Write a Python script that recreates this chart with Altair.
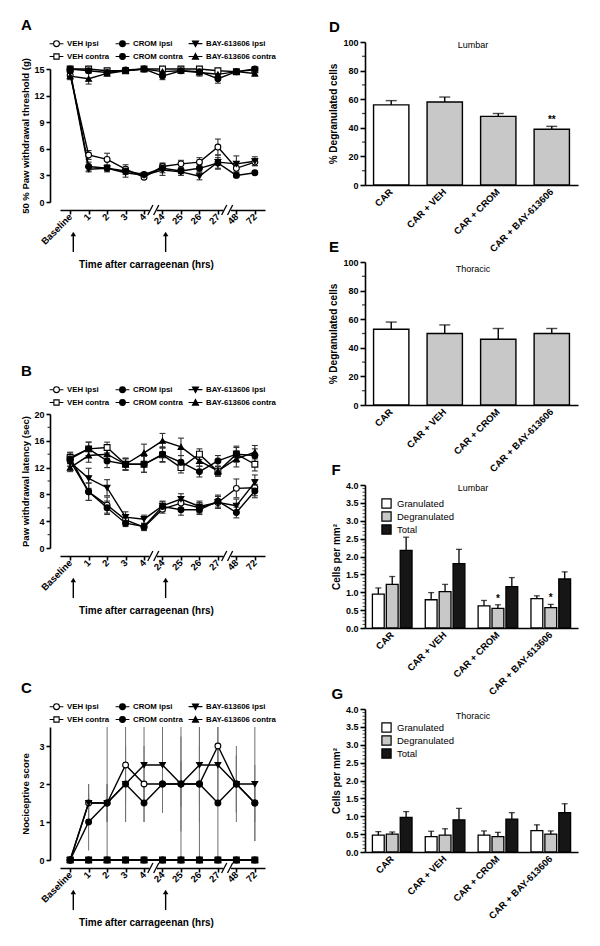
import altair as alt
import numpy as np
import pandas as pd

FONT = "Liberation Sans"
GREY = "#c8c8c8"
DARK = "#161616"

# ---------------- shared labels ----------------
time_labels = ["Baseline", "1", "2", "3", "4", "24", "25", "26", "27", "48", "72"]
arrow_times = ["Baseline", "24"]
break_after = ["4", "27"]
x_title = "Time after carrageenan (hrs)"

series_names = ["VEH ipsi", "CROM ipsi", "BAY-613606 ipsi",
                "VEH contra", "CROM contra", "BAY-613606 contra"]
series_shapes = ["circle", "circle", "triangle-down", "square", "circle", "triangle-up"]
series_fills = ["white", "black", "black", "white", "black", "black"]
series_strokes = ["black"] * 6
CIRC = "M-1,0H-0.42M0.42,0H1M-0.42,0A0.42,0.42 0 1,0 0.42,0A0.42,0.42 0 1,0 -0.42,0Z"
legend_shapes = [
    CIRC, CIRC,
    "M-1,0H-0.22M0.22,0H1M-0.44,-0.38L0.44,-0.38L0,0.44Z",
    "M-1,0H-0.38M0.38,0H1M-0.38,-0.38H0.38V0.38H-0.38Z",
    CIRC,
    "M-1,0H-0.22M0.22,0H1M0,-0.44L0.44,0.38L-0.44,0.38Z",
]

# ---------------- panel A : 50 % paw withdrawal threshold (g) ----------------
a_veh_ipsi = [14.3, 5.3, 4.8, 3.7, 2.8, 4.0, 4.3, 4.5, 6.2, 3.8, 4.5]
a_crom_ipsi = [14.8, 4.0, 3.8, 3.5, 3.1, 3.8, 3.5, 3.8, 4.4, 3.0, 3.3]
a_bay_ipsi = [14.6, 3.7, 3.8, 3.3, 3.0, 3.6, 3.4, 2.9, 4.5, 4.3, 4.6]
a_veh_contra = [15.0, 15.0, 14.8, 14.8, 15.0, 15.0, 15.0, 15.0, 14.8, 14.7, 14.9]
a_crom_contra = [15.0, 14.8, 14.6, 14.9, 15.0, 14.2, 14.8, 14.7, 13.9, 14.7, 15.0]
a_bay_contra = [14.2, 13.9, 14.5, 14.8, 15.0, 14.7, 14.8, 14.6, 14.4, 14.7, 14.5]
a_err_veh_ipsi = [0.4, 0.5, 0.7, 0.5, 0.2, 0.4, 0.4, 0.5, 0.9, 0.5, 0.4]
a_err_crom_ipsi = [0.2, 0.5, 0.3, 0.4, 0.2, 0.5, 0.3, 0.4, 0.6, 0.2, 0.2]
a_err_bay_ipsi = [0.3, 0.3, 0.4, 0.5, 0.2, 0.6, 0.4, 0.4, 0.8, 0.9, 0.5]
a_err_veh_contra = [0.1, 0.1, 0.2, 0.2, 0.1, 0.1, 0.1, 0.1, 0.2, 0.2, 0.2]
a_err_crom_contra = [0.1, 0.2, 0.3, 0.2, 0.1, 0.4, 0.2, 0.3, 0.5, 0.2, 0.1]
a_err_bay_contra = [0.4, 0.6, 0.3, 0.2, 0.1, 0.3, 0.2, 0.4, 0.4, 0.2, 0.3]

# ---------------- panel B : paw withdrawal latency (sec) ----------------
b_veh_ipsi = [13.0, 8.4, 6.4, 4.2, 3.1, 5.8, 6.7, 6.0, 6.8, 8.9, 9.0]
b_crom_ipsi = [13.5, 8.4, 6.0, 3.7, 3.2, 6.2, 5.7, 5.7, 7.0, 5.3, 8.5]
b_bay_ipsi = [12.8, 10.4, 9.0, 4.6, 4.3, 6.3, 7.3, 6.2, 6.8, 6.3, 9.8]
b_veh_contra = [13.5, 14.8, 15.0, 12.5, 12.5, 13.9, 12.0, 14.0, 11.4, 14.0, 12.5]
b_crom_contra = [13.3, 14.8, 13.0, 12.5, 12.5, 14.0, 12.8, 11.4, 13.0, 14.0, 13.8]
b_bay_contra = [12.0, 13.8, 14.0, 12.5, 14.2, 16.0, 15.1, 13.0, 11.5, 13.3, 14.3]
b_err_veh_ipsi = [0.8, 1.3, 1.2, 0.8, 0.5, 0.6, 0.9, 0.8, 0.9, 1.4, 1.2]
b_err_crom_ipsi = [0.7, 1.3, 1.0, 0.5, 0.4, 0.7, 0.8, 0.7, 0.9, 0.8, 1.0]
b_err_bay_ipsi = [0.6, 1.5, 1.2, 0.8, 0.6, 0.7, 0.8, 0.8, 0.9, 1.0, 1.1]
b_err_veh_contra = [0.8, 1.0, 0.8, 0.9, 1.2, 1.1, 0.8, 0.8, 0.7, 1.0, 1.0]
b_err_crom_contra = [0.7, 1.0, 1.0, 0.8, 1.2, 1.1, 1.0, 0.8, 0.8, 1.2, 1.0]
b_err_bay_contra = [0.6, 1.0, 0.9, 0.9, 1.3, 1.1, 1.3, 0.8, 0.7, 1.2, 1.0]

# ---------------- panel C : nociceptive score ----------------
c_veh_ipsi = [0, 1.5, 1.5, 2.5, 2.0, 2.0, 2.0, 2.0, 3.0, 2.0, 1.5]
c_crom_ipsi = [0, 1.0, 1.5, 2.0, 1.5, 2.0, 2.0, 2.0, 1.5, 2.0, 1.5]
c_bay_ipsi = [0, 1.5, 1.5, 2.0, 2.5, 2.5, 2.0, 2.5, 2.5, 2.0, 2.0]
c_veh_contra = [0, 0, 0, 0, 0, 0, 0, 0, 0, 0, 0]
c_crom_contra = [0, 0, 0, 0, 0, 0, 0, 0, 0, 0, 0]
c_bay_contra = [0, 0, 0, 0, 0, 0, 0, 0, 0, 0, 0]
c_err_veh_ipsi = [0, 0.5, 0.5, 1.0, 1.0, 0.75, 0.6, 1.0, 0.5, 0.75, 1.0]
c_err_crom_ipsi = [0, 0.75, 0.5, 1.0, 0.5, 0.75, 2.0, 2.0, 1.5, 0.75, 0.5]
c_err_bay_ipsi = [0, 0.5, 2.0, 1.0, 1.0, 1.25, 1.25, 1.0, 1.0, 1.0, 1.5]
c_err_contra = [0, 0, 0, 0, 0, 0, 0, 0, 0, 0, 0]

# ---------------- panels D-G ----------------
bar_cats = ["CAR", "CAR + VEH", "CAR + CROM", "CAR + BAY-613606"]
bar_fills = ["white", GREY, GREY, GREY]
d_vals = [56, 58, 48, 39]
d_errs = [3.0, 3.5, 2.0, 2.0]
d_marks = ["", "", "", "**"]
e_vals = [53, 50, 46, 50]
e_errs = [5.0, 6.0, 7.5, 3.5]
e_marks = ["", "", "", ""]

cell_types = ["Granulated", "Degranulated", "Total"]
cell_fills = ["white", GREY, DARK]
f_gran = [0.95, 0.79, 0.62, 0.82]
f_degran = [1.22, 1.02, 0.55, 0.57]
f_total = [2.17, 1.80, 1.16, 1.37]
f_err_gran = [0.17, 0.20, 0.15, 0.08]
f_err_degran = [0.22, 0.20, 0.10, 0.09]
f_err_total = [0.37, 0.40, 0.25, 0.20]
f_marks_degran = ["", "", "*", "*"]
g_gran = [0.47, 0.43, 0.47, 0.60]
g_degran = [0.50, 0.47, 0.43, 0.50]
g_total = [0.97, 0.90, 0.92, 1.10]
g_err_gran = [0.10, 0.15, 0.12, 0.16]
g_err_degran = [0.06, 0.18, 0.12, 0.09]
g_err_total = [0.16, 0.32, 0.18, 0.25]
g_marks_degran = ["", "", "", ""]

WL = 205   # left plot width
WR = 213   # right plot width


def letter_title(letter, offset=3):
    return alt.TitleParams(letter, anchor="start", frame="bounds", fontSize=15,
                           fontWeight="bold", font=FONT, color="black", offset=offset)


def spacer(w, h):
    return alt.Chart(pd.DataFrame({"z": [0]})).mark_point(opacity=0).encode(
        x=alt.value(0), y=alt.value(0)).properties(width=w, height=h)


def time_panel(letter, vals, errs, ymax, ystep, ytitle, h, legend_y, title_pad,
               minor_step=None, thin_err=False, title_offset=3):
    n = len(time_labels)
    rows = []
    for name, vs, es in zip(series_names, vals, errs):
        for i, (v, e) in enumerate(zip(vs, es)):
            rows.append({"series": name, "t": i, "v": v,
                         "lo": max(v - e, 0.0), "hi": min(v + e, ymax),
                         "ta": i - 0.16, "tb": i + 0.16})
    df = pd.DataFrame(rows)
    xs = alt.Scale(domain=[-0.55, n - 0.45], nice=False, zero=False)
    ys = alt.Scale(domain=[0, ymax], nice=False, zero=False)
    label_expr = "[" + ",".join("'%s'" % s for s in time_labels) + "][datum.value]"
    xaxis = alt.Axis(values=list(range(n)), labelExpr=label_expr, labelAngle=-45,
                     labelAlign="right", labelBaseline="middle", labelPadding=1,
                     labelFontSize=9.5, offset=8, tickSize=4, title=x_title,
                     titleX=86, titleY=57, titleBaseline="alphabetic", titleFontSize=10)
    nt = int(round(ymax // ystep)) + 1
    yvals = [k * ystep for k in range(nt)]
    yaxis = alt.Axis(values=yvals, offset=10, title=ytitle, tickSize=4, labelPadding=2,
                     titlePadding=title_pad, titleFontSize=9.5)

    def X(f):
        return alt.X(f, type="quantitative", scale=xs, axis=xaxis)

    def Y(f):
        return alt.Y(f, type="quantitative", scale=ys, axis=yaxis)

    base = alt.Chart(df)
    layers = []
    if thin_err:
        layers.append(base.mark_rule(color="#707070", strokeWidth=1).encode(
            x=X("t"), y=Y("lo"), y2="hi"))
    else:
        layers.append(base.mark_rule(color="#333333", strokeWidth=1.1).encode(
            x=X("t"), y=Y("lo"), y2="hi"))
        for f in ["lo", "hi"]:
            layers.append(base.mark_rule(color="#333333", strokeWidth=1.1).encode(
                x=X("ta"), x2="tb", y=Y(f)))
    layers.append(base.mark_line(color="black", strokeWidth=1.4).encode(
        x=X("t"), y=Y("v"), detail="series:N"))
    layers.append(base.mark_point(filled=True, size=34, stroke="black", strokeWidth=1.1,
                                  opacity=1).encode(
        x=X("t"), y=Y("v"),
        shape=alt.Shape("series:N", scale=alt.Scale(domain=series_names, range=series_shapes),
                        legend=None),
        fill=alt.Fill("series:N", scale=alt.Scale(domain=series_names, range=series_fills),
                      legend=None)))
    leg = alt.Legend(orient="none", legendX=-11, legendY=legend_y, columns=3,
                     direction="horizontal", title=None,
                     symbolSize=190, symbolStrokeWidth=1.1, symbolStrokeColor="black",
                     labelFont=FONT, labelFontSize=7.8, labelFontWeight="bold",
                     labelColor="black", labelOffset=3, columnPadding=3, rowPadding=0,
                     labelLimit=300, padding=0)
    layers.append(base.transform_filter("false").mark_point(
        filled=True, strokeWidth=1.1, opacity=1).encode(
        x=X("t"), y=Y("v"),
        shape=alt.Shape("series:N", scale=alt.Scale(domain=series_names, range=legend_shapes),
                        legend=leg),
        fill=alt.Fill("series:N", scale=alt.Scale(domain=series_names, range=series_fills),
                      legend=leg),
        stroke=alt.Stroke("series:N",
                          scale=alt.Scale(domain=series_names, range=series_strokes),
                          legend=leg)))
    # arrows marking injections
    adf = pd.DataFrame({"t": [time_labels.index(a) + 0.17 for a in arrow_times]})
    layers.append(alt.Chart(adf).mark_rule(color="black", strokeWidth=1.4).encode(
        x=X("t"), y=alt.value(h + 32), y2=alt.value(h + 50)))
    layers.append(alt.Chart(adf).mark_point(shape="triangle-up", filled=True, color="black",
                                            size=30, opacity=1).encode(
        x=X("t"), y=alt.value(h + 32)))
    # axis breaks
    bpos = [time_labels.index(b) + 0.5 for b in break_after]
    bdf = pd.DataFrame({"ta": [b - 0.2 for b in bpos], "tb": [b + 0.2 for b in bpos]})
    layers.append(alt.Chart(bdf).mark_rect(color="white").encode(
        x=X("ta"), x2="tb", y=alt.value(h + 4), y2=alt.value(h + 12)))
    sdf = pd.DataFrame({"ta": [p for b in bpos for p in (b - 0.3, b + 0.02)],
                        "tb": [p for b in bpos for p in (b - 0.02, b + 0.3)]})
    layers.append(alt.Chart(sdf).mark_rule(color="black", strokeWidth=1.3).encode(
        x=X("ta"), x2="tb", y=alt.value(h + 13), y2=alt.value(h + 3)))
    if minor_step:
        m = [k * minor_step for k in range(int(round(ymax / minor_step)) + 1)]
        m = [v for v in m if abs(v / ystep - round(v / ystep)) > 1e-6]
        layers.append(alt.Chart(pd.DataFrame({"m": m})).mark_tick(
            color="black", size=2.5, thickness=1.3).encode(y=Y("m"), x=alt.value(-11.2)))
    return alt.layer(*layers).resolve_scale(
        shape="independent", fill="independent", stroke="independent").properties(
        width=WL, height=h, title=letter_title(letter, title_offset))


def bar_panel(letter, vals, errs, marks, subtitle, sub_y, h=143):
    df = pd.DataFrame({"cat": bar_cats, "v": vals,
                       "hi": [v + e for v, e in zip(vals, errs)], "mk": marks})
    xs = alt.Scale(domain=bar_cats, paddingInner=0.34, paddingOuter=0.16)
    ys = alt.Scale(domain=[0, 100], nice=False)
    xaxis = alt.Axis(title=None, labelAngle=-45, labelAlign="right", labelBaseline="middle",
                     ticks=False, labelPadding=5, labelFontSize=9.5)
    yaxis = alt.Axis(values=[0, 20, 40, 60, 80, 100], title="% Degranulated cells",
                     tickSize=5, titlePadding=4, labelPadding=2, titleFontSize=10)
    X = alt.X("cat:N", scale=xs, axis=xaxis, sort=bar_cats)

    def Y(f):
        return alt.Y(f, type="quantitative", scale=ys, axis=yaxis)

    base = alt.Chart(df)
    bars = base.mark_bar(stroke="black", strokeWidth=1.4).encode(
        x=X, y=Y("v"),
        fill=alt.Fill("cat:N", scale=alt.Scale(domain=bar_cats, range=bar_fills), legend=None))
    err = base.mark_rule(color="black", strokeWidth=1.4).encode(x=X, y=Y("v"), y2="hi")
    cap = base.mark_tick(color="black", size=11, thickness=1.4).encode(x=X, y=Y("hi"))
    stars = base.mark_text(dy=-6, fontSize=10, fontWeight="bold", font=FONT,
                           color="black").encode(x=X, y=Y("hi"), text="mk:N")
    sub = alt.Chart(pd.DataFrame({"s": [subtitle]})).mark_text(
        font=FONT, fontSize=9, baseline="alphabetic", color="black").encode(
        x=alt.value(108), y=alt.value(sub_y), text="s:N")
    minor = alt.Chart(pd.DataFrame({"m": [10, 30, 50, 70, 90]})).mark_tick(
        color="black", size=3, thickness=1.3).encode(y=Y("m"), x=alt.value(-1.5))
    return alt.layer(bars, err, cap, stars, sub, minor).properties(
        width=WR, height=h, title=letter_title(letter))


def group_panel(letter, gv, dv, tv, ge, de, te, marks, subtitle, sub_y, h=143):
    rows = []
    for i, c in enumerate(bar_cats):
        for typ, v, e, mk in [(cell_types[0], gv[i], ge[i], ""),
                              (cell_types[1], dv[i], de[i], marks[i]),
                              (cell_types[2], tv[i], te[i], "")]:
            rows.append({"cat": c, "type": typ, "v": v, "hi": v + e, "mk": mk})
    df = pd.DataFrame(rows)
    xs = alt.Scale(domain=bar_cats, paddingInner=0.25, paddingOuter=0.14)
    ys = alt.Scale(domain=[0, 4], nice=False)
    xaxis = alt.Axis(title=None, labelAngle=-45, labelAlign="right", labelBaseline="middle",
                     ticks=False, labelPadding=5, labelFontSize=9.5)
    yaxis = alt.Axis(values=[0, 0.5, 1, 1.5, 2, 2.5, 3, 3.5, 4], format=".1f",
                     title="Cells per mm\u00b2", tickSize=5, titlePadding=4, labelPadding=2,
                     titleFontSize=10)
    X = alt.X("cat:N", scale=xs, axis=xaxis, sort=bar_cats)
    XO = alt.XOffset("type:N", scale=alt.Scale(domain=cell_types, paddingInner=0.15),
                     sort=cell_types)

    def Y(f):
        return alt.Y(f, type="quantitative", scale=ys, axis=yaxis)

    leg = alt.Legend(orient="none", legendX=16, legendY=13, title=None, symbolType="square",
                     symbolSize=85, symbolStrokeColor="black", symbolStrokeWidth=1.2,
                     labelFont=FONT, labelFontSize=9.5, labelFontWeight="normal",
                     labelColor="black", labelOffset=5, rowPadding=-2, padding=0)
    base = alt.Chart(df)
    bars = base.mark_bar(stroke="black", strokeWidth=1.3).encode(
        x=X, xOffset=XO, y=Y("v"),
        fill=alt.Fill("type:N", scale=alt.Scale(domain=cell_types, range=cell_fills),
                      legend=leg, sort=cell_types))
    err = base.mark_rule(color="black", strokeWidth=1.3).encode(x=X, xOffset=XO, y=Y("v"),
                                                                 y2="hi")
    cap = base.mark_tick(color="black", size=6, thickness=1.3).encode(
        x=X, xOffset=XO, y=Y("hi"))
    stars = base.mark_text(dy=-6, fontSize=10, fontWeight="bold", font=FONT,
                           color="black").encode(x=X, xOffset=XO, y=Y("hi"), text="mk:N")
    sub = alt.Chart(pd.DataFrame({"s": [subtitle]})).mark_text(
        font=FONT, fontSize=9, baseline="alphabetic", color="black").encode(
        x=alt.value(108), y=alt.value(sub_y), text="s:N")
    mvals = [k / 10 for k in range(41) if k % 5 != 0]
    minor = alt.Chart(pd.DataFrame({"m": mvals})).mark_tick(
        color="black", size=2.5, thickness=1).encode(y=Y("m"), x=alt.value(-1.25))
    return alt.layer(bars, err, cap, stars, sub, minor).properties(
        width=WR, height=h, title=letter_title(letter))


A = time_panel("A",
               [a_veh_ipsi, a_crom_ipsi, a_bay_ipsi, a_veh_contra, a_crom_contra, a_bay_contra],
               [a_err_veh_ipsi, a_err_crom_ipsi, a_err_bay_ipsi, a_err_veh_contra,
                a_err_crom_contra, a_err_bay_contra],
               15, 3, "50 % Paw withdrawal threshold (g)", 133, -33, 3)
B = time_panel("B",
               [b_veh_ipsi, b_crom_ipsi, b_bay_ipsi, b_veh_contra, b_crom_contra, b_bay_contra],
               [b_err_veh_ipsi, b_err_crom_ipsi, b_err_bay_ipsi, b_err_veh_contra,
                b_err_crom_contra, b_err_bay_contra],
               20, 4, "Paw withdrawal latency (sec)", 134, -32, 3, minor_step=2)
C = time_panel("C",
               [c_veh_ipsi, c_crom_ipsi, c_bay_ipsi, c_veh_contra, c_crom_contra, c_bay_contra],
               [c_err_veh_ipsi, c_err_crom_ipsi, c_err_bay_ipsi, c_err_contra, c_err_contra,
                c_err_contra],
               3.5, 1, "Nociceptive score", 133, -28, 8, thin_err=True)
D = bar_panel("D", d_vals, d_errs, d_marks, "Lumbar", 6)
E = bar_panel("E", e_vals, e_errs, e_marks, "Thoracic", 10)
F = group_panel("F", f_gran, f_degran, f_total, f_err_gran, f_err_degran, f_err_total,
                f_marks_degran, "Lumbar", 6)
G = group_panel("G", g_gran, g_degran, g_total, g_err_gran, g_err_degran, g_err_total,
                g_marks_degran, "Thoracic", 10)

IND = dict(shape="independent", fill="independent", stroke="independent")
left = alt.vconcat(spacer(WL, 27), A, spacer(WL, 212), B, spacer(WL, 179), C,
                   spacing=0, bounds="flush").resolve_scale(**IND)
right = alt.vconcat(D, spacer(WR, 77), E, spacer(WR, 80), F, spacer(WR, 81), G,
                    spacing=0, bounds="flush").resolve_scale(**IND)

chart = alt.hconcat(left, right, spacing=52).resolve_scale(**IND).properties(
    padding={"left": 12, "top": 10, "right": 2, "bottom": 2}
).configure_view(stroke=None).configure_axis(
    domainColor="black", domainWidth=1.6, tickColor="black", tickWidth=1.6,
    labelColor="black", titleColor="black", labelFont=FONT, titleFont=FONT,
    labelFontWeight="bold", titleFontWeight="bold", labelFontSize=9, grid=False)

chart.save("out.html", embed_options={"renderer": "svg", "actions": False})
